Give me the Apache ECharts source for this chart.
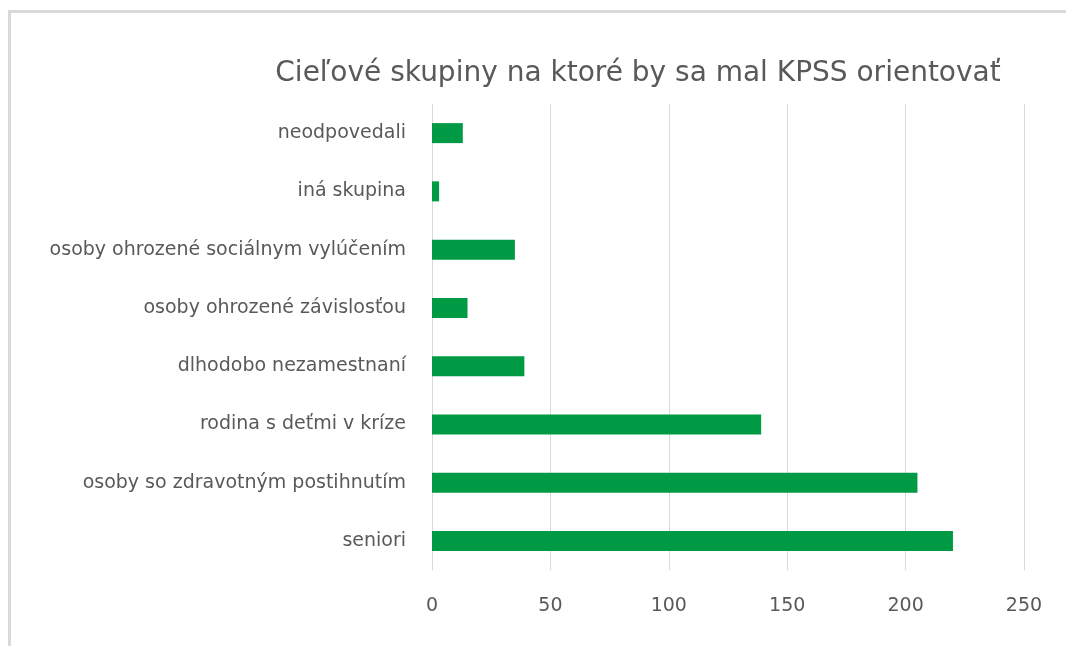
<!DOCTYPE html>
<html>
<head>
<meta charset="utf-8">
<script src="https://cdn.jsdelivr.net/npm/echarts@6/dist/echarts.min.js"></script>
<style>
  html, body { margin: 0; padding: 0; overflow: hidden; background: #fff; }
  /* rámik okolo grafu */
  .frame {
    position: absolute; left: 8px; top: 10px;
    width: 1100px; height: 700px;
    border: 3px solid #d9d9d9; box-sizing: border-box;
  }
  #chart { position: absolute; left: 0; top: 0; width: 1066px; height: 646px; }
</style>
</head>
<body>
<div class="frame"></div>
<div id="chart"></div>
<script>
// kategórie (zhora nadol ako v obrázku, os Y je otočená)
const categories = [
  'neodpovedali',
  'iná skupina',
  'osoby ohrozené sociálnym vylúčením',
  'osoby ohrozené závislosťou',
  'dlhodobo nezamestnaní',
  'rodina s deťmi v kríze',
  'osoby so zdravotným postihnutím',
  'seniori'
]
// počty odpovedí
const counts = [13, 3, 35, 15, 39, 139, 205, 220]

const chart = echarts.init(document.getElementById('chart'), null, { renderer: 'canvas' })
const option = {
  animation: false,
  title: {
    text: 'Cieľové skupiny na ktoré by sa mal KPSS orientovať',
    left: 633,
    top: 55,
    textAlign: 'center',
    textStyle: {
      fontFamily: 'DejaVu Sans',
      fontSize: 28,
      fontWeight: 'normal',
      color: '#595959'
    }
  },
  grid: {
    left: 432,
    right: 42,
    top: 104,
    bottom: 76
  },
  xAxis: {
    type: 'value',
    min: 0,
    max: 250,
    interval: 50,
    axisLine: { show: false },
    axisTick: { show: false },
    splitLine: { lineStyle: { color: '#d9d9d9', width: 1 } },
    axisLabel: {
      margin: 27,
      fontFamily: 'DejaVu Sans',
      fontSize: 19,
      color: '#595959'
    }
  },
  yAxis: {
    type: 'category',
    inverse: true,
    data: categories,
    axisLine: { show: true, lineStyle: { color: '#d9d9d9', width: 1 } },
    axisTick: { show: false },
    axisLabel: {
      margin: 26,
      fontFamily: 'DejaVu Sans',
      fontSize: 19,
      color: '#595959'
    }
  },
  series: [{
    type: 'bar',
    data: counts,
    barWidth: 20,
    itemStyle: { color: '#009a44' }
  }]
}
chart.setOption(option)
</script>
</body>
</html>
